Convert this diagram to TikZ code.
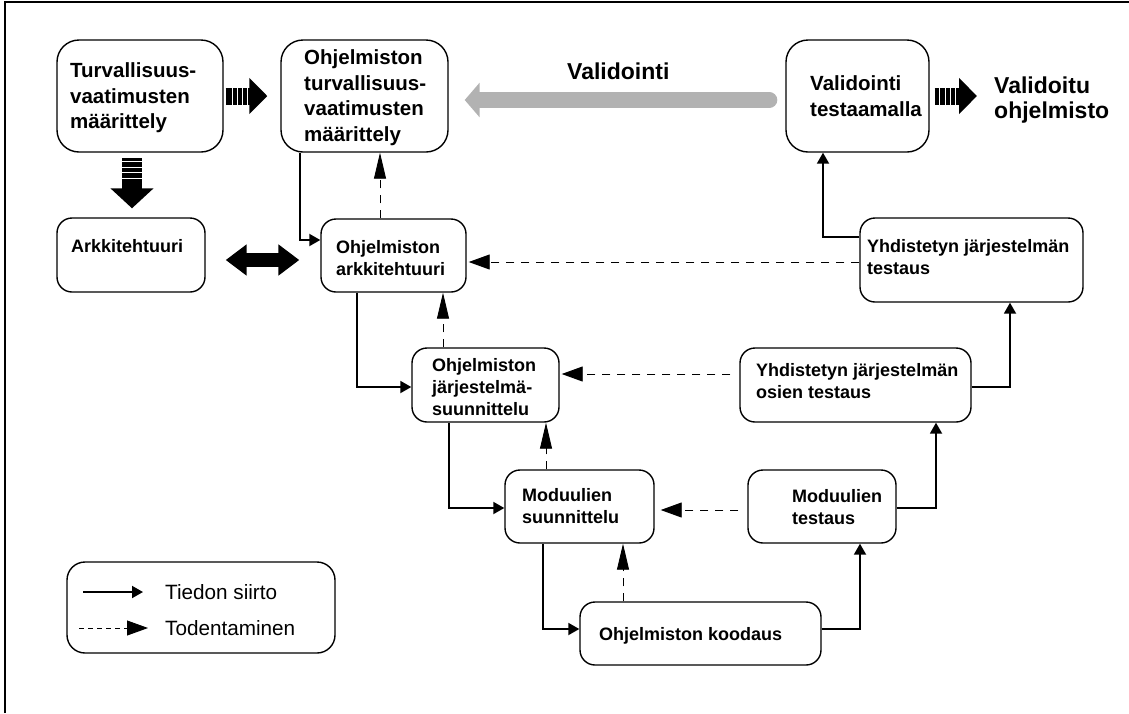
\documentclass[tikz,border=0pt]{standalone}
\usepackage{fontspec}
\setmainfont{Liberation Sans}
\usetikzlibrary{arrows.meta,calc}
\definecolor{valgray}{RGB}{178,178,178}
\begin{document}
\begin{tikzpicture}[x=1pt,y=-1pt,
  box/.style={draw=black, line width=1.4pt, rounded corners=15pt, inner sep=0pt},
  bigbox/.style={box, rounded corners=22pt},
  lbl/.style={anchor=west, align=left, inner sep=0pt},
  bigtxt/.style={lbl, font=\bfseries\fontsize{20.5}{25.5}\selectfont},
  medtxt/.style={lbl, font=\bfseries\fontsize{18}{22}\selectfont},
  headtxt/.style={lbl, font=\bfseries\fontsize{23}{25}\selectfont},
  legtxt/.style={lbl, font=\fontsize{20.7}{24}\selectfont},
  dataflow/.style={line width=1.9pt, -{Triangle[length=11pt,width=12pt]}},
  verif/.style={line width=0.9pt, dash pattern=on 8pt off 7pt},
  verifv/.style={verif, -{Triangle[length=26pt,width=12pt]}},
  verifh/.style={verif, -{Triangle[length=21pt,width=15pt]}},
  fatright/.style={line width=17pt, -{Triangle[length=18pt,width=35pt]}},
  fatdown/.style={line width=20pt, -{Triangle[length=20pt,width=42pt]}},
  fatboth/.style={line width=14pt, {Triangle[length=21pt,width=30pt]}-{Triangle[length=21pt,width=30pt]}},
  valarrow/.style={draw=valgray, line width=16pt, line cap=round, -{Triangle[length=15pt,width=34pt]}},
  stripe/.style={draw=white, line width=1.4pt},
]
\useasboundingbox (0,0) rectangle (1129,713);

% outer frame (top and left edges only)
\draw[line width=2pt] (4.5,713) -- (4.5,1.5) -- (1129,1.5);

% process boxes
\node[bigbox, minimum width=166pt, minimum height=112pt] (A) at (140,96) {};
\node[bigbox, minimum width=167pt, minimum height=112pt] (B) at (364.5,96) {};
\node[bigbox, minimum width=143pt, minimum height=112pt] (K) at (857.5,96) {};
\node[box, minimum width=148pt, minimum height=74pt] (C) at (131,255) {};
\node[box, minimum width=145pt, minimum height=73pt] (D) at (393.5,255.5) {};
\node[box, minimum width=223pt, minimum height=84pt] (J) at (971.5,260) {};
\node[box, minimum width=147pt, minimum height=74pt] (E) at (485.5,385) {};
\node[box, minimum width=231pt, minimum height=74pt] (I) at (855.5,385) {};
\node[box, minimum width=149pt, minimum height=73pt] (F) at (579.5,506.5) {};
\node[box, minimum width=148pt, minimum height=73pt] (H) at (822,506.5) {};
\node[box, minimum width=241pt, minimum height=63pt] (G) at (700.5,633.5) {};

% box texts
\node[bigtxt] (At) at (70,98) {Turvallisuus-\\vaatimusten\\määrittely};
\node[bigtxt] (Bt) at (304,97.5) {Ohjelmiston\\turvallisuus-\\vaatimusten\\määrittely};
\node[bigtxt] (Kt) at (810,96) {Validointi\\testaamalla};
\node[medtxt] (Ct) at (71,246) {Arkkitehtuuri};
\node[medtxt] (Dt) at (336,258) {Ohjelmiston\\arkkitehtuuri};
\node[medtxt] (Jt) at (867,257) {Yhdistetyn järjestelmän\\testaus};
\node[medtxt] (Et) at (432,387) {Ohjelmiston\\järjestelmä-\\suunnittelu};
\node[medtxt] (It) at (756,381) {Yhdistetyn järjestelmän\\osien testaus};
\node[medtxt] (Ft) at (522,506) {Moduulien\\suunnittelu};
\node[medtxt] (Ht) at (792,507) {Moduulien\\testaus};
\node[medtxt] (Gt) at (599,636) {Ohjelmiston koodaus};

% free-standing titles
\node[headtxt] (valh) at (567,71) {Validointi};
\node[headtxt] (vout) at (994,100) {Validoitu\\ohjelmisto};

% striped block arrows
\path ([xshift=2pt]A.east) coordinate (ab1);
\path ([xshift=-13pt]B.west) coordinate (ab2);
\draw[fatright] (ab1) -- (ab2);
\foreach \d in {7,12,17,22}
  \draw[stripe] ($(ab1)+(\d,-9)$) -- ($(ab1)+(\d,9)$);

\path ([xshift=-8pt,yshift=-5.5pt]A.south) coordinate (ad1);
\coordinate (ad2) at (ad1 |- C.north);
\draw[fatdown] (ad1) -- ([yshift=9pt]ad2);
\foreach \d in {3.5,9,14.5,20}
  \draw[stripe] ($(ad1)+(-11,\d)$) -- ($(ad1)+(11,\d)$);

\path ([xshift=5pt]K.east) coordinate (kv1);
\coordinate (kv2) at (vout.west |- kv1);
\draw[fatright] (kv1) -- ([xshift=-17pt]kv2);
\foreach \d in {5,11,16,21}
  \draw[stripe] ($(kv1)+(\d,-9)$) -- ($(kv1)+(\d,9)$);

% two-way block arrow
\draw[fatboth] ([xshift=20pt,yshift=-5pt]C.east) -- ([xshift=-21pt,yshift=-4.5pt]D.west);

% validation arrow
\draw[valarrow] ([xshift=-16pt,yshift=-4pt]K.west) -- ([xshift=16pt,yshift=-4pt]B.east);

% information flow (solid)
\coordinate (k1) at (300,240);
\coordinate (k2) at (357,387);
\coordinate (k3) at (449,508);
\coordinate (k4) at (543,629);
\coordinate (k5) at (860,629);
\coordinate (k6) at (936,508);
\coordinate (k7) at (1010,387);
\coordinate (k8) at (823,237);
\draw[dataflow] (B.south -| k1) |- (D.west |- k1);
\draw[dataflow] (D.south -| k2) |- (E.west |- k2);
\draw[dataflow] (E.south -| k3) |- (F.west |- k3);
\draw[dataflow] (F.south -| k4) |- (G.west |- k4);
\draw[dataflow] (G.east |- k5) -| (H.south -| k5);
\draw[dataflow] (H.east |- k6) -| (I.south -| k6);
\draw[dataflow] (I.east |- k7) -| (J.south -| k7);
\draw[dataflow] (J.west |- k8) -| (K.south -| k8);

% verification (dashed)
\coordinate (v1) at (380,0);
\coordinate (v2) at (443,0);
\coordinate (v3) at (546,0);
\coordinate (v4) at (623,0);
\coordinate (h1) at (0,262);
\coordinate (h2) at (0,374);
\coordinate (h3) at (0,510);
\draw[verifv] (D.north -| v1) -- (B.south -| v1);
\draw[verifv] (E.north -| v2) -- (D.south -| v2);
\draw[verifv] (F.north -| v3) -- (E.south -| v3);
\draw[verifv] (G.north -| v4) -- (F.south -| v4);
\draw[verifh, shorten >=2pt] (J.west |- h1) -- (D.east |- h1);
\draw[verifh, shorten <=9pt, shorten >=2pt] (I.west |- h2) -- (E.east |- h2);
\draw[verifh, shorten <=9pt, shorten >=6pt] (H.west |- h3) -- (F.east |- h3);

% legend
\node[box, rounded corners=18pt, minimum width=268pt, minimum height=91pt] (L) at (201,607.5) {};
\coordinate (la1) at (83,592);
\coordinate (la2) at (143,592);
\coordinate (lb1) at (79,628);
\coordinate (lb2) at (148,628);
\draw[dataflow] (la1) -- (la2);
\draw[verifh, dash pattern=on 5pt off 4pt] (lb1) -- (lb2);
\node[legtxt] (lt1) at (165,592) {Tiedon siirto};
\node[legtxt] (lt2) at (165,628) {Todentaminen};
\end{tikzpicture}
\end{document}
